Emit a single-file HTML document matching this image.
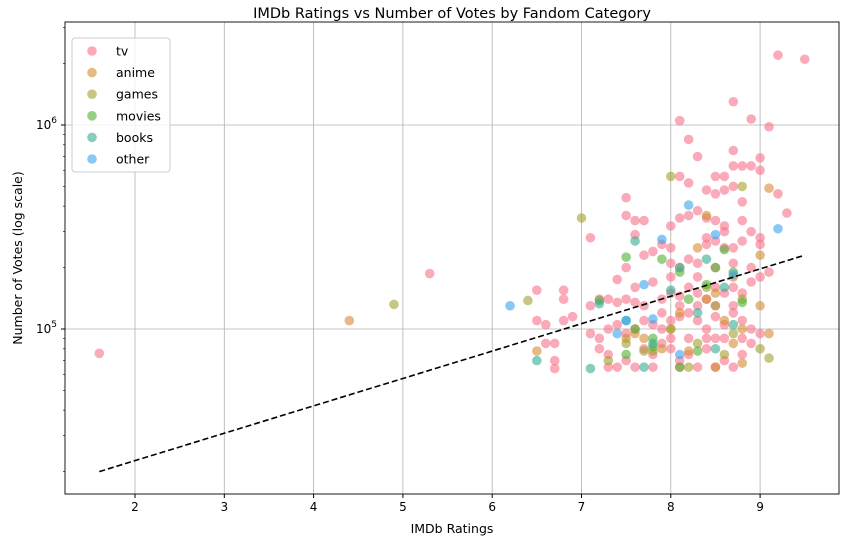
<!DOCTYPE html>
<html><head><meta charset="utf-8"><style>
body{margin:0;background:#fff;font-family:"Liberation Sans","DejaVu Sans",sans-serif}
svg text{font-family:"DejaVu Sans","Liberation Sans",sans-serif}
</style></head><body>
<svg id="c" width="849" height="547"></svg>
<script>
const categories=["tv","anime","games","movies","books","other"];
const colors=["#f77189","#d58c32","#a4a031","#50b131","#34ae91","#3ba3ec"];
const tvX=[1.6,5.3,9.2,9.5,8.7,8.1,8.9,9.1,8.2,8.3,9.0,8.7,8.7,8.8,8.9,8.6,8.5,8.1,8.2,8.6,8.4,8.7,9.2,7.5,8.5,8.8,8.3,9.3,8.0,7.5,7.6,7.7,8.1,8.2,8.8,8.6,8.4,7.1,7.6,7.7,7.8,7.9,8.0,8.1,8.2,8.3,8.4,8.5,8.6,8.7,8.8,8.9,9.0,9.1,7.4,7.5,7.6,7.8,8.0,6.8,6.5,6.8,7.1,7.2,7.3,7.4,7.5,7.6,7.7,7.9,8.0,8.1,8.2,8.3,8.4,8.5,8.6,8.7,8.8,8.9,9.0,6.5,6.6,6.8,6.9,7.1,7.2,7.3,7.4,7.5,7.6,7.7,7.8,7.9,8.0,8.1,8.2,8.3,8.4,8.5,8.6,8.7,8.8,8.9,9.0,6.6,6.7,6.7,6.7,7.2,7.3,7.4,7.5,7.6,7.7,7.8,7.9,8.0,8.1,8.2,8.3,8.4,8.5,8.6,8.7,8.8,8.9,7.3,7.8,8.1,8.5,8.0,8.2,8.4,8.6,8.8,9.0,9.0,8.3,8.5,8.7,8.1,7.9,8.3,8.5,8.7,8.9,8.0,8.4,8.5,8.6];
const tvY=[76,187,2200,2100,1300,1050,1070,980,850,700,690,750,630,630,630,560,560,560,520,480,480,500,460,440,460,420,380,370,320,360,340,340,350,360,340,320,280,280,290,230,240,260,210,200,220,210,260,270,250,250,270,300,260,190,175,200,160,170,180,155,155,140,130,140,140,135,140,135,130,140,150,145,160,150,140,160,150,160,150,170,180,110,105,110,115,95,90,100,105,95,100,110,105,100,110,115,120,110,100,115,105,120,110,100,95,85,85,70,64,80,75,65,70,65,80,75,85,80,70,75,65,80,90,70,65,75,85,65,65,65,65,90,90,90,90,90,280,600,130,130,130,130,120,180,200,210,200,250,350,340,300];
const animeX=[4.4,6.5,9.1,9.0,9.0,9.1,8.8,8.7,8.5,8.4,8.2,8.0,7.6,7.7,8.6,8.3,8.7,7.9,8.5,8.8,7.5,8.1,8.4];
const animeY=[110,78,490,230,130,95,68,85,65,360,78,100,95,90,110,250,180,80,150,100,90,120,140];
const gamesX=[4.9,6.4,7.0,8.0,8.8,9.0,9.1,7.3,7.5,7.8,8.2,8.6,8.4,8.7,8.0,7.7,8.8,8.3,8.5];
const gamesY=[132,138,350,560,500,80,72,70,85,78,65,75,160,95,100,78,140,85,130];
const moviesX=[7.2,7.5,7.6,7.8,7.8,8.1,8.1,8.3,8.5,8.6,8.7,8.8,7.5,8.4,7.9,8.2];
const moviesY=[138,225,100,90,82,65,190,78,200,245,190,135,75,165,220,140];
const booksX=[6.5,7.1,7.2,7.6,7.7,7.8,8.0,8.1,8.4,8.5,8.7,8.6,7.5,8.3];
const booksY=[70,64,133,270,65,85,155,200,220,80,105,160,110,120];
const otherX=[6.2,7.4,7.5,7.7,7.8,7.9,8.2,8.5,8.7,9.2,8.1];
const otherY=[130,95,110,165,112,275,405,290,185,310,75];
const xTicks=[2,3,4,5,6,7,8,9];
const trendX=[1.6,9.5];const trendY=[20,230];
const series=[[tvX,tvY],[animeX,animeY],[gamesX,gamesY],[moviesX,moviesY],[booksX,booksY],[otherX,otherY]];
const L=65,R=839,T=22,B=494;
const sx=v=>45.7+(v-1)*89.3;
const sy=k=>329-(Math.log10(k*1000)-5)*204;
const svg=document.getElementById('c');const NS="http://www.w3.org/2000/svg";
function mk(t,a,p){const e=document.createElementNS(NS,t);for(const k in a)e.setAttribute(k,a[k]);(p||svg).appendChild(e);return e;}
let g=mk('g',{});
xTicks.forEach(v=>{mk('line',{x1:sx(v),x2:sx(v),y1:T,y2:B,stroke:'#b0b0b0','stroke-width':0.8},g);
 const t=mk('text',{x:sx(v),y:B+17,'text-anchor':'middle','font-size':12,fill:'#000'});t.textContent=v;
 
 mk('line',{x1:sx(v),x2:sx(v),y1:B,y2:B+4,stroke:'#000'});});
[100,1000].forEach((k,i)=>{mk('line',{x1:L,x2:R,y1:sy(k),y2:sy(k),stroke:'#b0b0b0','stroke-width':0.8},g);
 mk('line',{x1:L-4,x2:L,y1:sy(k),y2:sy(k),stroke:'#000'});
 const t=mk('text',{x:L-8,y:sy(k)+4,'text-anchor':'end','font-size':12});t.innerHTML=i?'10<tspan dy="-6" font-size="9">6</tspan>':'10<tspan dy="-6" font-size="9">5</tspan>';
 });
for(let d=4;d<=6;d++)for(let m=2;m<10;m++){const k=m*Math.pow(10,d)/1000;const y=sy(k);if(y>T&&y<B)mk('line',{x1:L-2,x2:L,y1:y,y2:y,stroke:'#000','stroke-width':0.6});}
series.forEach((s,i)=>{const gg=mk('g',{});
 s[0].forEach((x,j)=>{const c=mk('circle',{cx:sx(x),cy:sy(s[1][j]),r:4.8,fill:colors[i],'fill-opacity':0.6},gg);
 });});
const tl=mk('line',{x1:sx(trendX[0]),y1:sy(trendY[0]),x2:sx(trendX[1]),y2:sy(trendY[1]),stroke:'#000','stroke-width':1.6,'stroke-dasharray':'6,3'});

const fr=mk('rect',{x:L,y:T,width:R-L,height:B-T,fill:'none',stroke:'#000','stroke-width':0.9});

let t=mk('text',{x:(L+R)/2,y:18,'text-anchor':'middle','font-size':14.5});t.textContent='IMDb Ratings vs Number of Votes by Fandom Category';

t=mk('text',{x:(L+R)/2,y:533,'text-anchor':'middle','font-size':12.5});t.textContent='IMDb Ratings';

t=mk('text',{x:0,y:0,'text-anchor':'middle','font-size':12.5,transform:'translate(22,258) rotate(-90)'});t.textContent='Number of Votes (log scale)';

const lg=mk('g',{});
mk('rect',{x:72,y:38,width:98,height:134,rx:3,fill:'#fff','fill-opacity':0.8,stroke:'#ccc'},lg);
categories.forEach((c,i)=>{const y=51+i*21.6;
 const e=mk('g',{},lg);
 mk('circle',{cx:92,cy:y,r:4.8,fill:colors[i],'fill-opacity':0.6},e);
 const tt=mk('text',{x:116,y:y+4.5,'font-size':12.5},e);tt.textContent=c;});
</script>
</body></html>
